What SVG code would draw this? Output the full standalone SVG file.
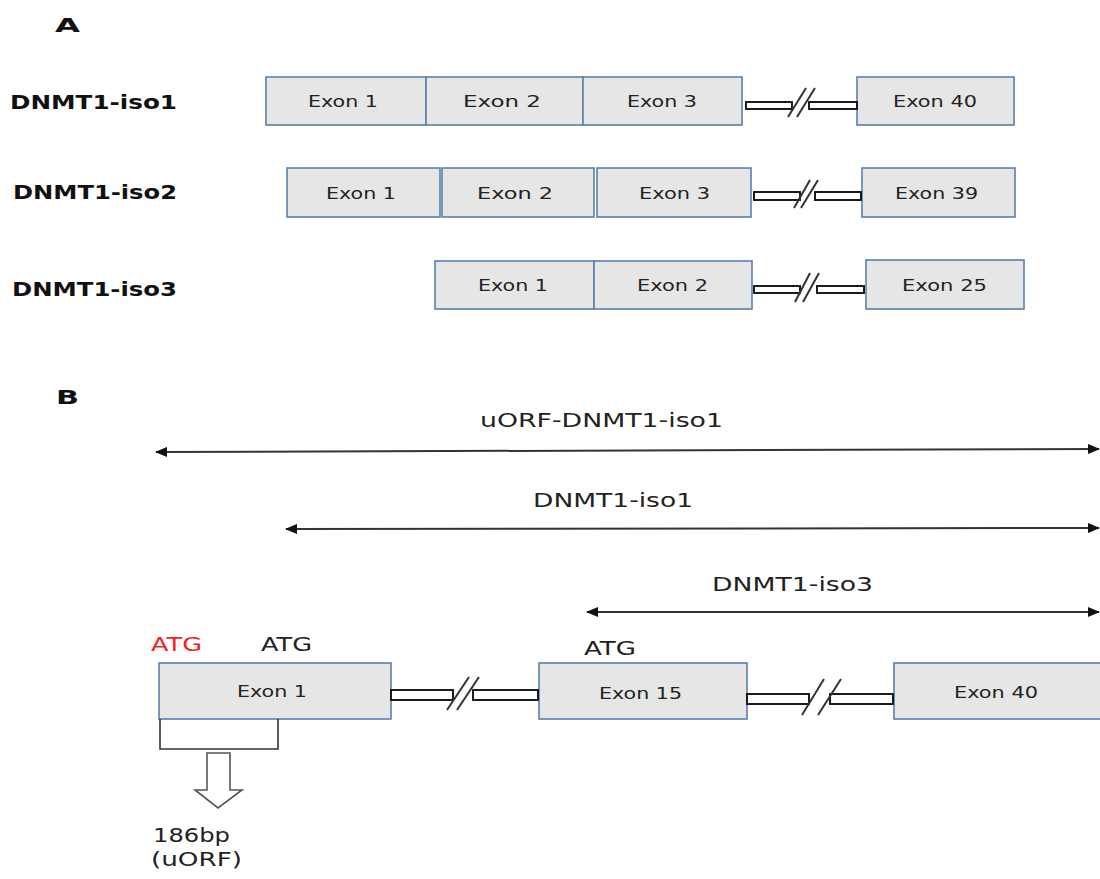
<svg xmlns="http://www.w3.org/2000/svg" width="1100" height="879" viewBox="0 0 1100 879">
<defs>
<style>
.box{fill:#e6e6e6;stroke:#5b80aa;stroke-width:1.6}
.bar{fill:#fff;stroke:#111;stroke-width:1.9}
.sl{stroke:#333;stroke-width:2;fill:none}
.t{font-family:"DejaVu Sans",Verdana,sans-serif;fill:#222}
.lb{font-family:"DejaVu Sans",Verdana,sans-serif;font-weight:bold;fill:#111;font-size:19px}
.ex{font-size:15px}
.exb{font-size:16px}
.big{font-size:20px}
.arr{stroke:#333;stroke-width:2;fill:none;marker-start:url(#ah);marker-end:url(#ah)}
</style>
<marker id="ah" viewBox="0 0 12 10" refX="11" refY="5" markerWidth="12" markerHeight="10" markerUnits="userSpaceOnUse" orient="auto-start-reverse">
<path d="M0,0 L12,5 L0,10 Z" fill="#111"/>
</marker>
</defs>
<rect width="1100" height="879" fill="#fff"/>

<g id="labels">
<text class="lb" x="55" y="32" font-size="20" textLength="25" lengthAdjust="spacingAndGlyphs">A</text>
<text class="lb" x="10" y="109" textLength="167" lengthAdjust="spacingAndGlyphs">DNMT1-iso1</text>
<text class="lb" x="13" y="199" textLength="164" lengthAdjust="spacingAndGlyphs">DNMT1-iso2</text>
<text class="lb" x="12" y="296" textLength="165" lengthAdjust="spacingAndGlyphs">DNMT1-iso3</text>
<text class="lb" x="56" y="404" font-size="20" textLength="23" lengthAdjust="spacingAndGlyphs">B</text>
</g>

<g id="iso1">
<rect class="box" x="266" y="77" width="160" height="48"/>
<rect class="box" x="426" y="77" width="157" height="48"/>
<rect class="box" x="583" y="77" width="159" height="48"/>
<rect class="box" x="857" y="77" width="157" height="48"/>
<text class="t ex" x="308" y="107" textLength="70" lengthAdjust="spacingAndGlyphs">Exon 1</text>
<text class="t ex" x="463" y="107" textLength="78" lengthAdjust="spacingAndGlyphs">Exon 2</text>
<text class="t ex" x="627" y="107" textLength="70" lengthAdjust="spacingAndGlyphs">Exon 3</text>
<text class="t ex" x="893" y="107" textLength="84" lengthAdjust="spacingAndGlyphs">Exon 40</text>
</g>

<g id="iso2">
<rect class="box" x="287" y="168" width="153" height="49"/>
<rect class="box" x="442" y="168" width="152" height="49"/>
<rect class="box" x="597" y="168" width="154" height="49"/>
<rect class="box" x="862" y="168" width="153" height="49"/>
<text class="t ex" x="326" y="199" textLength="70" lengthAdjust="spacingAndGlyphs">Exon 1</text>
<text class="t ex" x="477" y="199" textLength="76" lengthAdjust="spacingAndGlyphs">Exon 2</text>
<text class="t ex" x="639" y="199" textLength="71" lengthAdjust="spacingAndGlyphs">Exon 3</text>
<text class="t ex" x="895" y="199" textLength="83" lengthAdjust="spacingAndGlyphs">Exon 39</text>
</g>

<g id="iso3">
<rect class="box" x="435" y="261" width="159" height="48"/>
<rect class="box" x="594" y="261" width="158" height="48"/>
<rect class="box" x="866" y="260" width="158" height="49"/>
<text class="t ex" x="478" y="291" textLength="70" lengthAdjust="spacingAndGlyphs">Exon 1</text>
<text class="t ex" x="637" y="291" textLength="71" lengthAdjust="spacingAndGlyphs">Exon 2</text>
<text class="t ex" x="902" y="291" textLength="85" lengthAdjust="spacingAndGlyphs">Exon 25</text>
</g>

<g id="exon1-b">
<rect class="box" x="159" y="663" width="232" height="56"/>
<text class="t exb" x="237" y="697" textLength="70" lengthAdjust="spacingAndGlyphs">Exon 1</text>
</g>
<g id="exon15-b">
<rect class="box" x="539" y="663" width="208" height="56"/>
<text class="t exb" x="599" y="699" textLength="83" lengthAdjust="spacingAndGlyphs">Exon 15</text>
</g>
<g id="exon40-b">
<rect class="box" x="894" y="663" width="210" height="56"/>
<text class="t exb" x="954" y="698" textLength="84" lengthAdjust="spacingAndGlyphs">Exon 40</text>
</g>

<g id="atg">
<text class="t big" x="151" y="651" style="fill:#ff1a1a" textLength="51" lengthAdjust="spacingAndGlyphs">ATG</text>
<text class="t big" x="261" y="651" textLength="51" lengthAdjust="spacingAndGlyphs">ATG</text>
<text class="t big" x="584" y="655" textLength="52" lengthAdjust="spacingAndGlyphs">ATG</text>
</g>

<g id="uorf">
<path d="M160,719 L160,749 L278,749 L278,719" fill="none" stroke="#333" stroke-width="1.6"/>
<path d="M207,753 L230,753 L230,790 L242,790 L218,808 L195,790 L207,790 Z" fill="#fff" stroke="#555" stroke-width="1.6"/>
<text class="t big" x="153" y="842" textLength="77" lengthAdjust="spacingAndGlyphs">186bp</text>
<text class="t big" x="151" y="866" textLength="91" lengthAdjust="spacingAndGlyphs">(uORF)</text>
</g>

<g id="connectors">
<rect class="bar" x="746" y="102" width="46" height="7"/>
<rect class="bar" x="809" y="102" width="48" height="7"/>
<path class="sl" d="M788,117 L806,88 M797,117 L815,88"/>
<rect class="bar" x="754" y="192" width="46" height="8"/>
<rect class="bar" x="815" y="192" width="46" height="8"/>
<path class="sl" d="M794,208 L810,180 M801,208 L818,180"/>
<rect class="bar" x="754" y="286" width="46" height="7"/>
<rect class="bar" x="817" y="286" width="47" height="7"/>
<path class="sl" d="M795,302 L810,273 M803,302 L819,273"/>
<rect class="bar" x="391" y="690" width="62" height="10"/>
<rect class="bar" x="473" y="690" width="65" height="10"/>
<path class="sl" d="M447,710 L469,677 M457,710 L479,677"/>
<rect class="bar" x="747" y="694" width="62" height="10"/>
<rect class="bar" x="830" y="694" width="63" height="10"/>
<path class="sl" d="M802,715 L824,679 M818,715 L841,679"/>

<line class="arr" x1="156" y1="452" x2="1099" y2="449"/>
<line class="arr" x1="286" y1="529" x2="1099" y2="528"/>
<line class="arr" x1="587" y1="612" x2="1099" y2="612"/>
<text class="t big" x="480" y="427" textLength="243" lengthAdjust="spacingAndGlyphs">uORF-DNMT1-iso1</text>
<text class="t big" x="533" y="507" textLength="160" lengthAdjust="spacingAndGlyphs">DNMT1-iso1</text>
<text class="t big" x="712" y="591" textLength="161" lengthAdjust="spacingAndGlyphs">DNMT1-iso3</text>
</g>
</svg>
